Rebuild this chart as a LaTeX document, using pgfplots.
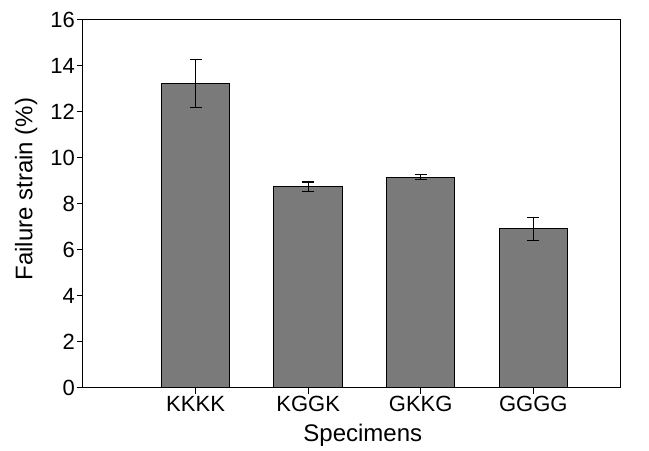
\documentclass[border=0pt]{standalone}
\usepackage{fontspec}
\setmainfont{Liberation Sans}
\usepackage{pgfplots}
\pgfplotsset{compat=1.18}
\begin{document}
\begin{tikzpicture}
\begin{axis}[
  scale only axis, width=537pt, height=368pt,
  xmin=-1, xmax=3.77, ymin=0, ymax=16,
  ytick={0,2,...,16},
  xtick={0,1,2,3}, xticklabels={KKKK,KGGK,GKKG,GGGG},
  tick align=outside, tick pos=left, major tick length=6pt,
  tick style={line width=1pt, black},
  axis line style={line width=1pt},
  ybar, bar width=68.5pt,
  ticklabel style={font=\fontsize{22}{22}\selectfont},
  yticklabel style={inner sep=2pt},
  xticklabel style={inner sep=2pt},
  label style={font=\fontsize{24}{24}\selectfont},
  xlabel={Specimens}, ylabel={Failure strain (\%)},
  xlabel style={at={(axis description cs:0.521,0)}, anchor=base, yshift=-54pt},
  ylabel style={at={(axis description cs:-0.106,0.54)}, anchor=center},
  /pgf/number format/assume math mode=true,
]
\addplot[fill=black!52, draw=black, line width=1pt,
  error bars/.cd, y dir=both, y explicit,
  error bar style={line width=1pt, black},
  error mark options={rotate=90, mark size=6pt, line width=1.2pt, black}]
  coordinates {
  (0,13.23) +- (0,1.05)
  (1,8.76) +- (0,0.20)
  (2,9.17) +- (0,0.12)
  (3,6.92) +- (0,0.49)
  };
\end{axis}
\useasboundingbox (-83pt,-59pt) rectangle (566pt,388pt);
\end{tikzpicture}
\end{document}
